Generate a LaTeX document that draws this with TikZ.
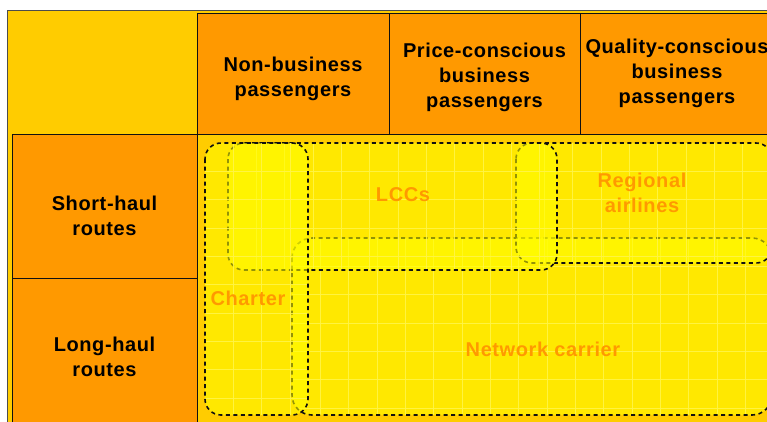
\documentclass[tikz,border=0pt]{standalone}
\usepackage{fontspec}
\setmainfont[LetterSpace=3]{Liberation Sans}
\usetikzlibrary{positioning}
\definecolor{framebg}{HTML}{FFCC00}
\definecolor{cellbg}{HTML}{FF9900}
\definecolor{zonebg}{HTML}{FFFF00}
\definecolor{zoneink}{HTML}{FF9900}
\definecolor{gridline}{HTML}{FFF547}
\definecolor{ink}{HTML}{111111}

\begin{document}
\begin{tikzpicture}[x=1pt, y=-1pt,
  every node/.style={font=\fontsize{20}{25}\selectfont\bfseries},
  cell/.style={rectangle, draw=ink, line width=0.9pt, fill=cellbg, inner sep=0pt},
  celltext/.style={align=center, text=black, inner sep=0pt},
  zonefill/.style={fill=zonebg, fill opacity=0.55},
  zone/.style={draw=ink, line width=1.6pt, dash pattern=on 4pt off 3.5pt},
  zonetext/.style={align=center, text=zoneink, inner sep=0pt}
]
\useasboundingbox (0,0) rectangle (767,421);
\fill[white] (0,0) rectangle (767,421);
\clip (0,0) rectangle (767,421);
\draw[draw=gray!60!black, fill=framebg] (7,10) rectangle (800,460);

% column heads
\node[cell, minimum width=192pt, minimum height=121pt] (nonbiz)  at (293,73.5)   {};
\node[cell, minimum width=191pt, minimum height=121pt] (pricebiz) at (484.5,73.5) {};
\node[cell, minimum width=192pt, minimum height=121pt] (qualbiz) at (676,73.5)   {};
\node[celltext, yshift=-5.5pt] (nonbiz-t)   at (nonbiz)   {Non-business\\passengers};
\node[celltext, yshift=-4pt]   (pricebiz-t) at (pricebiz) {Price-conscious\\business\\passengers};
\node[celltext, xshift=1pt]    (qualbiz-t)  at (qualbiz)  {Quality-conscious\\business\\passengers};

% row heads
\node[cell, minimum width=185pt, minimum height=144pt] (short) at (104.5,206) {};
\node[cell, minimum width=185pt, minimum height=162pt] (long)  at (104.5,359) {};
\node[celltext, yshift=-10pt]  (short-t) at (short) {Short-haul\\routes};
\node[celltext, yshift=2.5pt]  (long-t)  at (long)  {Long-haul\\routes};

% segments: network, regional, LCCs, charter (later ones lie on top)
\foreach \xa/\ya/\xb/\yb/\r in {292/238/772/415/20, 516/143/772/263/16,
                                 228/143/557/270/16, 205/143/308/415/16} {
  \fill[zonefill, rounded corners=\r pt] (\xa,\ya) rectangle (\xb,\yb);
  \begin{scope}
    \clip[rounded corners=\r pt] (\xa,\ya) rectangle (\xb,\yb);
    \foreach \k in {1,...,18} {
      \draw[gridline, line width=0.9pt, opacity=0.9] ({\xa+28.33*\k},\ya) -- ({\xa+28.33*\k},\yb);
      \draw[gridline, line width=0.9pt, opacity=0.9] (\xa,{\ya+28.33*\k}) -- (\xb,{\ya+28.33*\k});
    }
  \end{scope}
  \draw[zone, rounded corners=\r pt] (\xa,\ya) rectangle (\xb,\yb);
}

\node[zonetext] (lccs)     at (403,195) {LCCs};
\node[zonetext] (regional) at (642,193) {Regional\\airlines};
\node[zonetext] (charter)  at (248,298) {Charter};
\node[zonetext] (network)  at (543,349) {Network carrier};
\end{tikzpicture}
\end{document}
